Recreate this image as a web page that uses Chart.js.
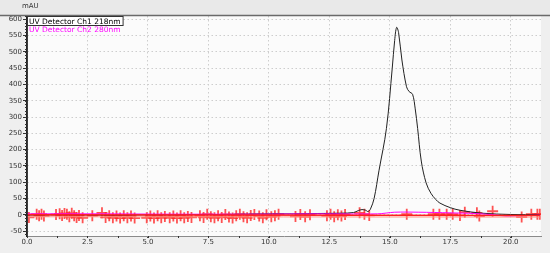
<!DOCTYPE html>
<html>
<head>
<meta charset="utf-8">
<script src="https://cdn.jsdelivr.net/npm/chart.js@4/dist/chart.umd.min.js"></script>
<style>
  html, body { margin: 0; padding: 0; background: #f0f0f0; }
  #wrap { width: 550px; height: 253px; }
</style>
</head>
<body>
<div id="wrap"><canvas id="chromatogram" width="550" height="253"></canvas></div>
<script>
/* chromatogram data (time in min, signal in mAU) */
const ch1Times  = [0, 1, 2, 3, 4, 5, 6, 7, 8, 9, 10, 11, 12, 13, 13.5, 13.7, 13.85, 14.0, 14.1, 14.2, 14.35, 14.55, 14.86, 15.1, 15.2, 15.28, 15.36, 15.5, 15.69, 15.8, 15.94, 16.05, 16.15, 16.3, 16.5, 16.7, 16.9, 17.07, 17.5, 17.9, 18.8, 20.0, 21.2];
const ch1Values = [-1, 0, 0, -1, -1, 0, 0, 1, 1, 2, 3, 3, 4, 5, 7, 13, 16, 14, 10, 18, 50, 135, 265, 450, 535, 575, 560, 475, 393, 378, 370, 325, 265, 165, 98, 66, 47, 36, 22, 14, 5, 1, 0];

const ch2Times  = [0, 3, 6, 9, 12, 14.5, 15.2, 16.2, 17.5, 18.5, 19.3, 19.8, 20.3, 21.2];
const ch2Values = [3, 3, 2, 2, 3, 3, 8, 8, 6, 4, 0, -4, -3, -1];

const baseTimes  = [0, 21.2];
const baseValues = [0, -2];
const lowTimes   = [0, 21.2];
const lowValues  = [-6, -7];

const markerTimes = [0.08, 0.4, 0.5, 0.6, 0.7, 1.2, 1.35, 1.45, 1.55, 1.65, 1.75, 1.85, 1.95, 2.05, 2.15, 2.3, 2.7,
  3.1, 3.25, 3.4, 3.55, 3.7, 3.85, 4.0, 4.15, 4.3, 4.45, 4.95, 5.1, 5.25, 5.4, 5.55, 5.7, 5.9, 6.05, 6.2, 6.35, 6.5, 6.65, 6.8,
  7.15, 7.3, 7.45, 7.6, 7.75, 7.9, 8.05, 8.2, 8.35, 8.5, 8.65, 8.8, 8.95, 9.1, 9.25, 9.4, 9.6, 9.75, 9.9, 10.1, 10.25, 10.4,
  11.1, 11.3, 11.5, 11.7, 12.4, 12.55, 12.7, 12.85, 13.0, 13.15, 13.75, 13.95, 14.15,
  15.7, 16.8, 17.05, 17.35, 17.6, 17.9, 18.1, 18.6, 18.7, 19.25, 20.45, 20.85, 21.1, 21.2];
const markerValues = [-8, 2, -3, 2, -4, 1, 3, -2, 4, 2, -6, 5, -3, -8, -2, -9, -3,
  6, -8, -3, -9, -4, -10, -3, -9, -4, -10, -9, -4, -10, -3, -9, -5, -9, -4, -10, -3, -9, -5, -8,
  -3, -8, 2, -6, -9, -3, -8, 1, -7, -10, -3, 2, -6, -9, -2, 1, -4, -9, 0, -6, -3, 2,
  -5, 1, -6, 0, -3, 2, -6, 0, -4, 1, 6, 2, -2,
  2, 2, 2, 2, 2, -2, 8, 6, -4, 11, -7, 2, 2, 2];

const xTicks = [0, 2.5, 5, 7.5, 10, 12.5, 15, 17.5, 20];
const yTicks = [-50, 0, 50, 100, 150, 200, 250, 300, 350, 400, 450, 500, 550, 600];

const legendLabels = ["UV Detector Ch1 218nm", "UV Detector Ch2 280nm"];

function toPoints(xs, ys) {
  return xs.map((x, i) => ({ x: x, y: ys[i] }));
}

// background, frame, minor ticks, legend, unit label
const decorPlugin = {
  id: "decor",
  beforeDraw(chart) {
    const { ctx, chartArea: a } = chart;
    ctx.save();
    ctx.fillStyle = "#efefef";
    ctx.fillRect(0, 0, chart.width, chart.height);
    ctx.fillStyle = "#e9e9e9";
    ctx.fillRect(0, 0, chart.width, a.top);
    ctx.fillStyle = "#fbfbfb";
    ctx.fillRect(a.left, a.top, a.right - a.left, a.bottom - a.top);
    ctx.restore();
  },
  afterDraw(chart) {
    const { ctx, chartArea: a, scales } = chart;
    ctx.save();
    // top frame line
    ctx.strokeStyle = "#6a6a6a";
    ctx.lineWidth = 1.5;
    ctx.beginPath();
    ctx.moveTo(0, a.top - 0.5);
    ctx.lineTo(chart.width, a.top - 0.5);
    ctx.stroke();

    // solid left axis line
    ctx.strokeStyle = "#222";
    ctx.lineWidth = 1.5;
    ctx.beginPath();
    ctx.moveTo(a.left, a.top);
    ctx.lineTo(a.left, a.bottom);
    ctx.stroke();

    // minor y ticks
    ctx.strokeStyle = "#333";
    ctx.lineWidth = 1;
    ctx.beginPath();
    for (let v = -60; v <= 610; v += 10) {
      const py = Math.round(scales.y.getPixelForValue(v)) + 0.5;
      ctx.moveTo(a.left - 2, py);
      ctx.lineTo(a.left, py);
    }
    // minor x ticks
    for (let t = 0; t <= 21.2; t += 1.25) {
      const px = Math.round(scales.x.getPixelForValue(t)) + 0.5;
      ctx.moveTo(px, a.bottom);
      ctx.lineTo(px, a.bottom + 2);
    }
    ctx.stroke();

    // unit label
    ctx.font = "7px 'DejaVu Sans'";
    ctx.fillStyle = "#333";
    ctx.textBaseline = "alphabetic";
    ctx.fillText("mAU", a.left - 5, 8);

    // legend
    ctx.font = "7.5px 'DejaVu Sans'";
    const w = ctx.measureText(legendLabels[0]).width + 4;
    ctx.fillStyle = "#ffffff";
    ctx.fillRect(a.left, a.top, w, 9);
    ctx.strokeStyle = "#333";
    ctx.strokeRect(a.left + 0.5, a.top + 0.5, w, 9);
    ctx.fillStyle = "#000";
    ctx.fillText(legendLabels[0], a.left + 2, a.top + 7.5);
    ctx.fillStyle = "#ff00ff";
    ctx.fillText(legendLabels[1], a.left + 2, a.top + 15.5);
    ctx.restore();
  }
};

const ctx = document.getElementById("chromatogram").getContext("2d");
new Chart(ctx, {
  type: "scatter",
  data: {
    datasets: [
      {
        label: "low",
        data: toPoints(lowTimes, lowValues),
        showLine: true,
        borderColor: "#ff9a8a",
        borderWidth: 1,
        pointRadius: 0
      },
      {
        label: "base",
        data: toPoints(baseTimes, baseValues),
        showLine: true,
        borderColor: "#ff2020",
        borderWidth: 1.5,
        pointRadius: 0
      },
      {
        label: legendLabels[1],
        data: toPoints(ch2Times, ch2Values),
        showLine: true,
        borderColor: "#ff00ff",
        borderWidth: 1,
        pointRadius: 0,
        tension: 0.3
      },
      {
        label: legendLabels[0],
        data: toPoints(ch1Times, ch1Values),
        showLine: true,
        borderColor: "#222222",
        borderWidth: 1,
        pointRadius: 0,
        tension: 0.35
      },
      {
        label: "events",
        data: toPoints(markerTimes, markerValues),
        showLine: false,
        pointStyle: "cross",
        pointRadius: 5.5,
        borderWidth: 1.8,
        borderColor: "rgba(255, 40, 40, 0.8)",
        backgroundColor: "rgba(255, 40, 40, 0.8)"
      }
    ]
  },
  plugins: [decorPlugin],
  options: {
    responsive: false,
    animation: false,
    layout: { padding: { top: 16, right: 9, left: 0, bottom: 6 } },
    plugins: {
      legend: { display: false },
      tooltip: { enabled: false }
    },
    scales: {
      x: {
        type: "linear",
        min: 0,
        max: 21.25,
        afterFit: (s) => { s.height = 11; },
        afterBuildTicks: (s) => { s.ticks = xTicks.map((v) => ({ value: v })); },
        ticks: {
          padding: 0,
          color: "#333",
          font: { family: "DejaVu Sans", size: 7 },
          maxRotation: 0,
          callback: (v) => Number(v).toFixed(1)
        },
        grid: {
          color: "#cdcdcd",
          tickLength: 2,
          tickColor: "#444",
          tickBorderDash: []
        },
        border: { color: "#8a8a8a", dash: [1.5, 2.5], width: 1 }
      },
      y: {
        min: -65,
        max: 610,
        afterFit: (s) => { s.width = 27; },
        afterBuildTicks: (s) => { s.ticks = yTicks.map((v) => ({ value: v })); },
        ticks: {
          padding: 1,
          color: "#333",
          font: { family: "DejaVu Sans", size: 7 },
          callback: (v) => v
        },
        grid: {
          color: "#cdcdcd",
          tickLength: 4,
          tickColor: "#333",
          tickBorderDash: []
        },
        border: { color: "#222", dash: [1.5, 2.5], width: 1.5 }
      }
    }
  }
});
</script>
</body>
</html>
